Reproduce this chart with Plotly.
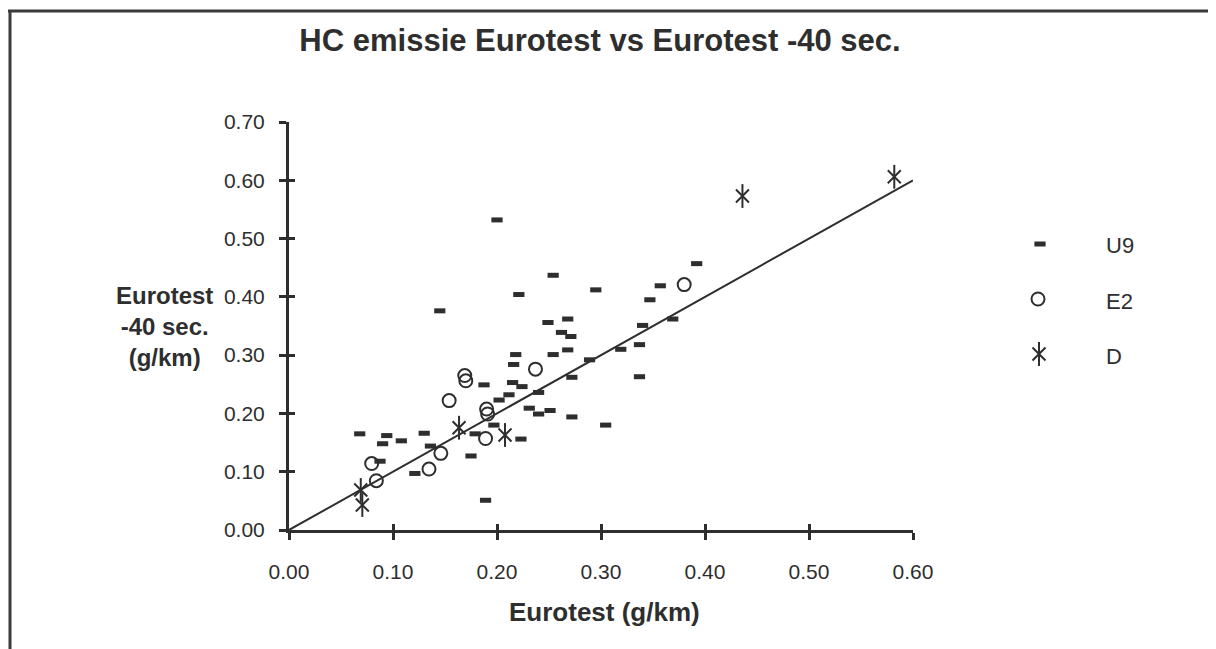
import plotly.graph_objects as go

# page body has an 8px margin, so the figure is drawn 8px in from the window corner
OFF = 8
W, H = 1216 - OFF, 649 - OFF

# ---------------- data ----------------
series_names = ["U9", "E2", "D"]

u9_x = [0.254, 0.221, 0.295, 0.145, 0.249, 0.268, 0.262, 0.271, 0.268, 0.254,
        0.218, 0.216, 0.289, 0.272, 0.1875, 0.215, 0.224, 0.240, 0.2115, 0.202,
        0.231, 0.240, 0.251, 0.272, 0.197, 0.179, 0.223, 0.068, 0.094, 0.090,
        0.108, 0.130, 0.136, 0.0875, 0.121, 0.175, 0.189, 0.200, 0.392, 0.357,
        0.347, 0.369, 0.340, 0.337, 0.319, 0.337, 0.3045]
u9_y = [0.437, 0.404, 0.412, 0.376, 0.356, 0.362, 0.339, 0.332, 0.309, 0.301,
        0.301, 0.284, 0.292, 0.262, 0.249, 0.253, 0.246, 0.236, 0.232, 0.223,
        0.209, 0.199, 0.205, 0.194, 0.180, 0.165, 0.156, 0.165, 0.162, 0.148,
        0.153, 0.166, 0.144, 0.118, 0.097, 0.127, 0.051, 0.532, 0.457, 0.419,
        0.395, 0.362, 0.351, 0.318, 0.310, 0.263, 0.180]

e2_x = [0.237, 0.169, 0.170, 0.154, 0.190, 0.191, 0.189, 0.146, 0.1346, 0.0795,
        0.084, 0.380]
e2_y = [0.276, 0.265, 0.256, 0.222, 0.2075, 0.199, 0.157, 0.1315, 0.1046, 0.114,
        0.0846, 0.421]

d_x = [0.1635, 0.2077, 0.069, 0.0705, 0.436, 0.582]
d_y = [0.1755, 0.163, 0.0686, 0.0429, 0.573, 0.606]

ref_line_x = [0.0, 0.6]
ref_line_y = [0.0, 0.6]

x_ticks = [0.0, 0.1, 0.2, 0.3, 0.4, 0.5, 0.6]
x_tick_labels = ["0.00", "0.10", "0.20", "0.30", "0.40", "0.50", "0.60"]
y_ticks = [0.0, 0.1, 0.2, 0.3, 0.4, 0.5, 0.6, 0.7]
y_tick_labels = ["0.00", "0.10", "0.20", "0.30", "0.40", "0.50", "0.60", "0.70"]

title_text = "HC emissie Eurotest vs Eurotest -40 sec."
x_title = "Eurotest (g/km)"
y_title = "Eurotest<br>-40 sec.<br>(g/km)"

# ---------------- styling / layout helpers ----------------
INK = "#2e2e2e"
FONT = "Liberation Sans, Arial, Helvetica, sans-serif"


def px(x):
    """screen pixel x -> paper fraction"""
    return (x - OFF) / W


def py(y):
    """screen pixel y -> paper fraction"""
    return 1 - (y - OFF) / H


X_DOM = [px(289), px(913)]
Y_DOM = [py(530), py(122)]

fig = go.Figure()

# reference line y = x
fig.add_trace(go.Scatter(x=ref_line_x, y=ref_line_y, mode="lines",
                         line=dict(color=INK, width=2), showlegend=False,
                         hoverinfo="skip"))

u9_marker = dict(symbol="line-ew", size=8, color=INK, line=dict(color=INK, width=5))
e2_marker = dict(symbol="circle-open", size=13, color=INK, line=dict(color=INK, width=2))
d_marker_x = dict(symbol="x-thin-open", size=13, color=INK, line=dict(color=INK, width=2))
d_marker_v = dict(symbol="line-ns-open", size=17, color=INK, line=dict(color=INK, width=2))

fig.add_trace(go.Scatter(x=u9_x, y=u9_y, mode="markers", name=series_names[0],
                         marker=u9_marker, showlegend=False))
fig.add_trace(go.Scatter(x=e2_x, y=e2_y, mode="markers", name=series_names[1],
                         marker=e2_marker, showlegend=False))
fig.add_trace(go.Scatter(x=d_x, y=d_y, mode="markers", name=series_names[2],
                         marker=d_marker_x, showlegend=False))
fig.add_trace(go.Scatter(x=d_x, y=d_y, mode="markers", name=series_names[2],
                         marker=d_marker_v, showlegend=False))

# transparent trace on overlay axes, which draw the inner half of the crossing ticks
fig.add_trace(go.Scatter(x=ref_line_x, y=ref_line_y, xaxis="x3", yaxis="y3",
                         mode="markers", marker=dict(size=1, opacity=0),
                         showlegend=False, hoverinfo="skip"))

# ---- manual legend (screen-pixel axes x2/y2) ----
LEG_MX = 1040
LEG_TX = 1104
LEG_Y = [244, 299, 354]
for mk, dx, yy in [(u9_marker, 0, LEG_Y[0]), (e2_marker, -2, LEG_Y[1]),
                   (d_marker_x, -1, LEG_Y[2]), (d_marker_v, -1, LEG_Y[2])]:
    fig.add_trace(go.Scatter(x=[LEG_MX + dx], y=[yy], xaxis="x2", yaxis="y2",
                             mode="markers", showlegend=False, hoverinfo="skip",
                             marker=mk))

annotations = []
for name, yy in zip(series_names, LEG_Y):
    annotations.append(dict(text=name, x=px(LEG_TX), y=py(yy + 2), xref="paper",
                            yref="paper", xanchor="left", yanchor="middle",
                            showarrow=False, font=dict(family=FONT, size=22, color=INK)))

annotations.append(dict(text=x_title, x=px(604), y=py(612), xref="paper", yref="paper",
                        xanchor="center", yanchor="middle", showarrow=False,
                        font=dict(family=FONT, size=26, color=INK, weight="bold")))
annotations.append(dict(text=y_title, x=px(164), y=py(326), xref="paper", yref="paper",
                        xanchor="center", yanchor="middle", showarrow=False, align="center",
                        font=dict(family=FONT, size=24, color=INK, weight="bold")))

axis_common = dict(showgrid=False, zeroline=False, showline=True, linewidth=3,
                   linecolor=INK, ticks="outside", ticklen=7, tickwidth=3,
                   tickcolor=INK, tickfont=dict(family=FONT, size=21, color=INK))

inner_ticks = dict(ticks="inside", ticklen=6, tickwidth=3, tickcolor=INK,
                   showticklabels=False, showline=False, showgrid=False, zeroline=False,
                   visible=True)

fig.update_layout(
    width=W, height=H,
    margin=dict(l=0, r=0, t=0, b=0, autoexpand=False),
    paper_bgcolor="white", plot_bgcolor="rgba(0,0,0,0)",
    title=dict(text=title_text, x=px(600), xanchor="center", y=py(40), yanchor="middle",
               xref="paper", yref="paper",
               font=dict(family=FONT, size=31, color=INK, weight="bold")),
    xaxis=dict(domain=X_DOM, range=[0, 0.6], anchor="y", tickvals=x_ticks,
               ticktext=x_tick_labels, ticklabelstandoff=14, **axis_common),
    yaxis=dict(domain=Y_DOM, range=[0, 0.7], anchor="x", tickvals=y_ticks,
               ticktext=y_tick_labels, ticklabelstandoff=10, **axis_common),
    xaxis3=dict(overlaying="x", anchor="y", side="bottom", range=[0, 0.6],
                tickvals=x_ticks, **inner_ticks),
    yaxis3=dict(overlaying="y", anchor="x", side="left", range=[0, 0.7],
                tickvals=y_ticks, **inner_ticks),
    xaxis2=dict(domain=[0, 1], range=[OFF, W + OFF], anchor="y2", visible=False,
                fixedrange=True),
    yaxis2=dict(domain=[0, 1], range=[H + OFF, OFF], anchor="x2", visible=False,
                fixedrange=True),
    annotations=annotations,
    shapes=[
        dict(type="line", xref="paper", yref="paper", x0=0, x1=1, y0=py(11), y1=py(11),
             line=dict(color="#3a3a3a", width=3)),
        dict(type="line", xref="paper", yref="paper", x0=px(10), x1=px(10), y0=0, y1=py(11),
             line=dict(color="#3a3a3a", width=3)),
    ],
    showlegend=False,
)

fig.write_html("out.html")
